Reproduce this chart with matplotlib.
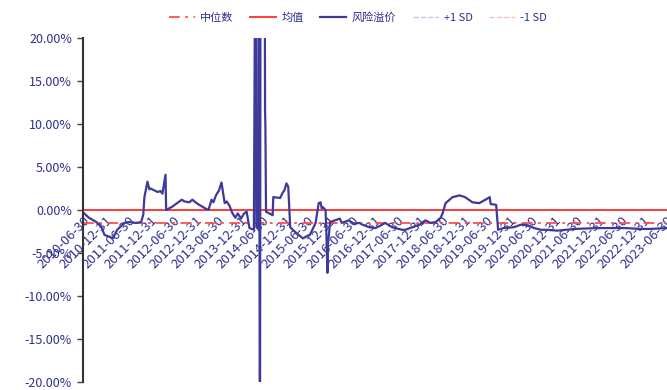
import pandas as pd
import matplotlib.pyplot as plt

plt.rcParams['font.family'] = ['Noto Sans CJK SC', 'DejaVu Sans']

# risk premium (%); spike values go beyond the axis range
dates = ['2010-06-30', '2010-08-15', '2010-10-15', '2010-11-25', '2010-12-20', '2011-01-30',
         '2011-02-25', '2011-04-03', '2011-05-30', '2011-07-10', '2011-09-05', '2011-10-15',
         '2011-11-01', '2011-11-10', '2011-12-05', '2011-12-20', '2011-12-30', '2012-02-25',
         '2012-03-20', '2012-04-05', '2012-04-30', '2012-05-05', '2012-06-25', '2012-09-10',
         '2012-09-30', '2012-11-10', '2012-12-05', '2012-12-30', '2013-01-30', '2013-03-30',
         '2013-04-15', '2013-05-10', '2013-05-25', '2013-06-15', '2013-07-10', '2013-07-30',
         '2013-08-25', '2013-09-10', '2013-10-03', '2013-10-28', '2013-11-20', '2013-12-10',
         '2014-01-05', '2014-01-30', '2014-02-20', '2014-03-15', '2014-04-20', '2014-05-05',
         '2014-05-10', '2014-05-25', '2014-06-01', '2014-06-08', '2014-06-14', '2014-07-15',
         '2014-07-20', '2014-07-23', '2014-07-28', '2014-09-20', '2014-09-25', '2014-11-20',
         '2014-12-10', '2014-12-25', '2015-01-10', '2015-01-25', '2015-02-10', '2015-03-10',
         '2015-04-20', '2015-05-25', '2015-06-30', '2015-07-20', '2015-09-05', '2015-09-30',
         '2015-10-15', '2015-10-25', '2015-11-05', '2015-11-25', '2015-12-01', '2015-12-10',
         '2015-12-15', '2016-01-01', '2016-03-20', '2016-04-05', '2016-06-01', '2016-07-15',
         '2016-08-25', '2016-09-20', '2016-11-15', '2017-01-05', '2017-02-15', '2017-03-25',
         '2017-05-20', '2017-08-10', '2017-09-05', '2017-11-01', '2017-12-30', '2018-02-15',
         '2018-03-30', '2018-05-10', '2018-06-20', '2018-07-05', '2018-07-30', '2018-09-25',
         '2018-11-20', '2019-01-05', '2019-03-05', '2019-04-30', '2019-06-20', '2019-07-25',
         '2019-08-01', '2019-09-15', '2019-10-01', '2019-11-15', '2020-02-05', '2020-04-05',
         '2020-06-05', '2020-07-20', '2020-09-15', '2020-11-05', '2021-01-25', '2021-06-15',
         '2021-12-25', '2022-05-20', '2022-08-10', '2022-11-25', '2023-02-20', '2023-07-10']
premium = [-0.3, -0.9, -1.4, -2.0, -2.9, -3.1,
           -3.3, -2.3, -1.5, -1.4, -1.5, -1.4,
           -0.5, 1.5, 3.3, 2.4, 2.5, 2.1,
           2.2, 1.9, 4.1, 0.0, 0.4, 1.2,
           1.0, 0.9, 1.2, 0.9, 0.6, 0.1,
           0.0, 1.2, 0.9, 1.7, 2.3, 3.2,
           0.8, 1.0, 0.5, -0.4, -0.9, -0.4,
           -1.0, -0.4, -0.2, -2.1, -2.3, 45.0,
           -2.0, -2.2, 45.0, -40.0, 45.0, 45.0,
           11.6, 9.5, -0.2, -0.6, 1.5, 1.4,
           2.0, 2.3, 3.1, 2.7, -2.0, -2.4,
           -2.9, -3.3, -3.0, -2.9, -1.5, 0.8,
           0.9, 0.2, 0.3, 0.0, -2.3, -7.3,
           -4.0, -1.4, -1.0, -1.5, -1.2, -1.6,
           -1.5, -1.7, -2.0, -2.1, -1.8, -1.5,
           -2.0, -2.3, -2.3, -2.0, -1.7, -1.2,
           -1.5, -1.4, -0.9, -0.4, 0.8, 1.5,
           1.7, 1.5, 0.9, 0.8, 1.2, 1.5,
           0.7, 0.6, -2.3, -2.1, -2.0, -1.7,
           -1.8, -2.1, -2.3, -2.3, -2.4, -2.2,
           -2.1, -2.1, -2.1, -2.2, -2.2, -2.1]
median_val = -1.55
mean_val = 0.0
sd_val = 21.0

tick_dates = pd.date_range('2010-06-30', '2023-06-30', freq='6ME')
tick_labels = [d.strftime('%Y-%m-%d') for d in tick_dates]
yticks = [-20, -15, -10, -5, 0, 5, 10, 15, 20]

navy = '#2E2E8E'
blue = '#3D3A9A'

fig = plt.figure(figsize=(6.67, 3.9), dpi=100)
ax = fig.add_axes([0.1245, 0.0205, 0.8755, 0.882])
x = pd.to_datetime(dates)

ax.axhline(median_val, color='#FF5050', lw=1.3, ls=(0, (6, 3, 1.5, 3)), label='中位数')
ax.axhline(mean_val, color='#FF3B3B', lw=1.4, label='均值')
ax.plot(x, premium, color=blue, lw=1.6, label='风险溢价')
ax.axhline(mean_val + sd_val, color='#C6C6EA', lw=1.0, ls='--', label='+1 SD')
ax.axhline(mean_val - sd_val, color='#FFBFBF', lw=1.0, ls='--', label='-1 SD')

ax.set_ylim(-20, 20)
ax.set_xlim(pd.Timestamp('2010-06-28'), pd.Timestamp('2023-07-08'))
ax.spines['bottom'].set_position(('data', 0))
ax.spines['bottom'].set_visible(False)
ax.spines['top'].set_visible(False)
ax.spines['right'].set_visible(False)
ax.spines['left'].set_color('#333333')
ax.spines['left'].set_linewidth(1.5)
ax.tick_params(axis='x', length=0, pad=3)
ax.tick_params(axis='y', length=4, color='#444444', width=1, pad=4)

ax.set_yticks(yticks)
ax.set_yticklabels(['%.2f%%' % v for v in yticks], color=navy, fontsize=9)
ax.set_xticks(tick_dates)
ax.set_xticklabels(tick_labels, color=navy, fontsize=9.5)
for lab in ax.get_xticklabels():
    lab.set_rotation(45)
    lab.set_rotation_mode('anchor')
    lab.set_ha('right')
    lab.set_va('top')

fig.legend(loc='upper center', bbox_to_anchor=(0.537, 0.995), ncol=5, frameon=False,
           fontsize=8, handlelength=2.3, columnspacing=1.5, handletextpad=0.5,
           labelcolor=navy)

fig.savefig('out.png', dpi=100)
